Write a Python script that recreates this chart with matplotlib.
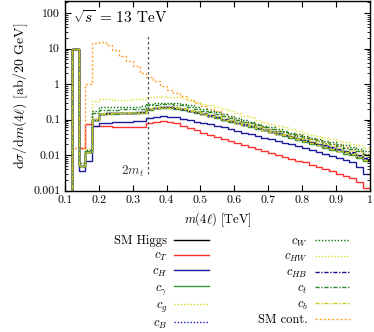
import numpy as np
import matplotlib
matplotlib.use('Agg')
import matplotlib.pyplot as plt
from matplotlib.ticker import FixedLocator, FixedFormatter, LogLocator, NullFormatter

plt.rcParams['font.family'] = 'serif'
plt.rcParams['font.serif'] = ['cmr10']
plt.rcParams['mathtext.fontset'] = 'cm'
plt.rcParams['axes.formatter.use_mathtext'] = True

# bin edges in TeV (20 GeV bins)
edges = np.round(np.arange(0.10, 1.0001, 0.02), 2)

# values, one per bin (0.10-0.12, 0.12-0.14, ...)
sm_higgs = [1e-6, 10, 0.005, 0.012, 0.10,
            0.14, 0.15, 0.15, 0.15, 0.15, 0.155, 0.16,
            0.20, 0.21, 0.22, 0.22, 0.21, 0.20, 0.175, 0.16, 0.145, 0.13, 0.115, 0.10,
            0.09, 0.08, 0.072, 0.064, 0.057, 0.051, 0.045, 0.040, 0.036, 0.032, 0.028,
            0.025, 0.022, 0.019, 0.017, 0.015, 0.013, 0.012, 0.011, 0.009, 0.0075]
c_T = [1e-6, 10, 0.016, 0.075, 0.066,
       0.065, 0.064, 0.063, 0.062, 0.062, 0.061, 0.062,
       0.080, 0.087, 0.090, 0.088, 0.082, 0.068, 0.058, 0.050, 0.043, 0.038, 0.033, 0.029,
       0.025, 0.022, 0.019, 0.017, 0.015, 0.013, 0.0115, 0.0102, 0.009, 0.008, 0.007,
       0.0062, 0.0054, 0.0046, 0.004, 0.0035, 0.003, 0.0026, 0.0022, 0.0017, 0.0012]
c_H = [1e-6, 10, 0.0035, 0.007, 0.065,
       0.080, 0.082, 0.085, 0.086, 0.088, 0.090, 0.092,
       0.110, 0.120, 0.125, 0.122, 0.115, 0.105, 0.098, 0.088, 0.080, 0.073, 0.066, 0.060,
       0.054, 0.048, 0.043, 0.039, 0.035, 0.031, 0.028, 0.025, 0.022, 0.020, 0.018,
       0.016, 0.014, 0.0125, 0.011, 0.0095, 0.0085, 0.0072, 0.0062, 0.0045, 0.003]
c_gamma = [1e-6, 10, 0.005, 0.012, 0.10,
           0.14, 0.145, 0.145, 0.15, 0.15, 0.15, 0.155,
           0.19, 0.21, 0.21, 0.21, 0.205, 0.19, 0.17, 0.155, 0.14, 0.125, 0.11, 0.10,
           0.088, 0.078, 0.07, 0.062, 0.056, 0.05, 0.044, 0.039, 0.035, 0.031, 0.027,
           0.024, 0.021, 0.019, 0.016, 0.014, 0.013, 0.011, 0.010, 0.0085, 0.007]
c_g = [1e-6, 10, 0.005, 0.012, 0.11,
       0.15, 0.15, 0.155, 0.155, 0.16, 0.16, 0.165,
       0.21, 0.22, 0.23, 0.23, 0.22, 0.21, 0.19, 0.17, 0.155, 0.14, 0.125, 0.11,
       0.097, 0.087, 0.078, 0.07, 0.062, 0.055, 0.049, 0.044, 0.039, 0.035, 0.031,
       0.028, 0.025, 0.022, 0.02, 0.018, 0.016, 0.014, 0.013, 0.011, 0.0095]
c_B = [1e-6, 10, 0.005, 0.012, 0.10,
       0.14, 0.15, 0.15, 0.15, 0.155, 0.155, 0.16,
       0.20, 0.21, 0.22, 0.22, 0.21, 0.20, 0.175, 0.16, 0.145, 0.13, 0.115, 0.10,
       0.09, 0.08, 0.072, 0.064, 0.058, 0.052, 0.046, 0.041, 0.037, 0.033, 0.029,
       0.026, 0.023, 0.02, 0.018, 0.016, 0.014, 0.013, 0.0115, 0.0095, 0.008]
c_W = [1e-6, 10, 0.006, 0.014, 0.17,
       0.22, 0.22, 0.22, 0.22, 0.225, 0.23, 0.235,
       0.28, 0.29, 0.30, 0.30, 0.29, 0.27, 0.25, 0.225, 0.2, 0.18, 0.16, 0.14,
       0.125, 0.11, 0.098, 0.087, 0.077, 0.068, 0.061, 0.054, 0.048, 0.043, 0.039,
       0.035, 0.031, 0.028, 0.025, 0.023, 0.021, 0.019, 0.017, 0.015, 0.013]
c_HW = [1e-6, 10, 0.006, 0.015, 0.33,
        0.37, 0.37, 0.36, 0.36, 0.36, 0.37, 0.37,
        0.42, 0.43, 0.45, 0.43, 0.42, 0.40, 0.35, 0.31, 0.28, 0.25, 0.22, 0.20,
        0.17, 0.15, 0.13, 0.115, 0.10, 0.088, 0.077, 0.068, 0.060, 0.053, 0.047,
        0.042, 0.038, 0.034, 0.031, 0.028, 0.025, 0.023, 0.021, 0.019, 0.016]
c_HB = [1e-6, 10, 0.005, 0.012, 0.10,
        0.145, 0.15, 0.15, 0.155, 0.155, 0.16, 0.16,
        0.20, 0.215, 0.22, 0.22, 0.215, 0.20, 0.18, 0.165, 0.15, 0.135, 0.12, 0.105,
        0.093, 0.083, 0.074, 0.066, 0.059, 0.053, 0.047, 0.042, 0.038, 0.034, 0.03,
        0.027, 0.024, 0.021, 0.019, 0.017, 0.015, 0.013, 0.012, 0.01, 0.0085]
c_t = [1e-6, 10, 0.005, 0.013, 0.15,
       0.19, 0.19, 0.19, 0.195, 0.195, 0.2, 0.205,
       0.25, 0.26, 0.27, 0.27, 0.26, 0.25, 0.22, 0.2, 0.18, 0.16, 0.14, 0.125,
       0.11, 0.098, 0.087, 0.078, 0.07, 0.062, 0.055, 0.049, 0.044, 0.039, 0.035,
       0.031, 0.028, 0.025, 0.022, 0.02, 0.018, 0.016, 0.015, 0.013, 0.011]
c_b = [1e-6, 10, 0.005, 0.012, 0.10,
       0.14, 0.145, 0.15, 0.15, 0.15, 0.155, 0.155,
       0.195, 0.21, 0.215, 0.215, 0.21, 0.195, 0.175, 0.16, 0.145, 0.13, 0.115, 0.10,
       0.09, 0.08, 0.072, 0.064, 0.057, 0.051, 0.045, 0.04, 0.036, 0.032, 0.028,
       0.025, 0.022, 0.019, 0.017, 0.015, 0.013, 0.012, 0.011, 0.009, 0.0075]
sm_cont = [1e-6, 0.016, 0.016, 1.0, 14,
           15, 13, 9.0, 6.3, 4.5, 3.3, 2.1,
           1.6, 1.2, 0.9, 0.7, 0.56, 0.45, 0.36, 0.3, 0.24, 0.2, 0.17, 0.14,
           0.12, 0.1, 0.088, 0.08, 0.07, 0.062, 0.055, 0.049, 0.044, 0.04, 0.036,
           0.032, 0.029, 0.026, 0.023, 0.021, 0.019, 0.017, 0.015, 0.013, 0.011]

dot = (0, (1, 1.3))
dashdot = (0, (3, 1.2, 1, 1.2))
series = [
    ('SM Higgs', sm_higgs, 'black', '-'),
    (r'$c_T$', c_T, '#ff3030', '-'),
    (r'$c_H$', c_H, '#1a1a9a', '-'),
    (r'$c_\gamma$', c_gamma, '#3a9a3a', '-'),
    (r'$c_g$', c_g, '#d8d820', dot),
    (r'$c_B$', c_B, '#2020d0', dot),
    (r'$c_W$', c_W, '#0a700a', dot),
    (r'$c_{HW}$', c_HW, '#e0e030', dot),
    (r'$c_{HB}$', c_HB, '#101090', dashdot),
    (r'$c_t$', c_t, '#2a8a2a', dashdot),
    (r'$c_b$', c_b, '#cccc20', dashdot),
    ('SM cont.', sm_cont, '#ffa030', (0, (1.5, 1.5))),
]

fig = plt.figure(figsize=(3.74, 3.32), dpi=100)
ax = fig.add_axes([0.174, 0.426, 0.8145, 0.571])

# draw order: background lines first, SM-like bundle on top
order = [1, 11, 2, 7, 6, 9, 0, 3, 5, 8, 4, 10]
handles = {}
for i in order:
    label, vals, color, ls = series[i]
    h = ax.stairs(vals, edges, baseline=None, color=color, linestyle=ls,
                  linewidth=1.0, label=label)
    handles[i] = h

# 2 m_t marker
ax.plot([0.346, 0.346], [0.003, 25], color='#555555', linestyle=(0, (2, 2)), linewidth=0.9)
ax.text(0.333, 0.0035, r'$2m_t$', ha='right', va='center', fontsize=9.5, color='#333333')
ax.text(0.122, 75, r'$\sqrt{s}$ = 13 TeV', ha='left', va='center', fontsize=11)

ax.set_yscale('log')
ax.set_xlim(0.1, 1.0)
ax.set_ylim(0.001, 220)

xt = [0.1, 0.2, 0.3, 0.4, 0.5, 0.6, 0.7, 0.8, 0.9, 1.0]
xl = ['0.1', '0.2', '0.3', '0.4', '0.5', '0.6', '0.7', '0.8', '0.9', '1']
yt = [0.001, 0.01, 0.1, 1, 10, 100]
yl = ['0.001', '0.01', '0.1', '1', '10', '100']
ax.xaxis.set_major_locator(FixedLocator(xt))
ax.xaxis.set_major_formatter(FixedFormatter(xl))
ax.yaxis.set_major_locator(FixedLocator(yt))
ax.yaxis.set_major_formatter(FixedFormatter(yl))
ax.yaxis.set_minor_locator(LogLocator(base=10, subs=np.arange(2, 10)))
ax.yaxis.set_minor_formatter(NullFormatter())
ax.tick_params(which='both', direction='in', top=True, right=True, labelsize=8.5)
ax.tick_params(which='major', length=4, width=0.8)
ax.tick_params(which='minor', length=2, width=0.6)
for s in ax.spines.values():
    s.set_linewidth(1.0)

ax.set_xlabel(r'$m(4\ell)$ [TeV]', fontsize=9, labelpad=4)
ax.set_ylabel(r'$\mathrm{d}\sigma/\mathrm{d}m(4\ell)$ [ab/20 GeV]', fontsize=10, labelpad=2)

hl = [handles[i] for i in range(12)]
lb = [s[0] for s in series]
fig.legend(hl, lb, loc='upper center', bbox_to_anchor=(0.62, 0.325), ncol=2,
           frameon=False, markerfirst=False, fontsize=9, handlelength=2.8,
           labelspacing=0.2, columnspacing=3.9, handletextpad=0.55)

fig.savefig('out.png', dpi=100)
